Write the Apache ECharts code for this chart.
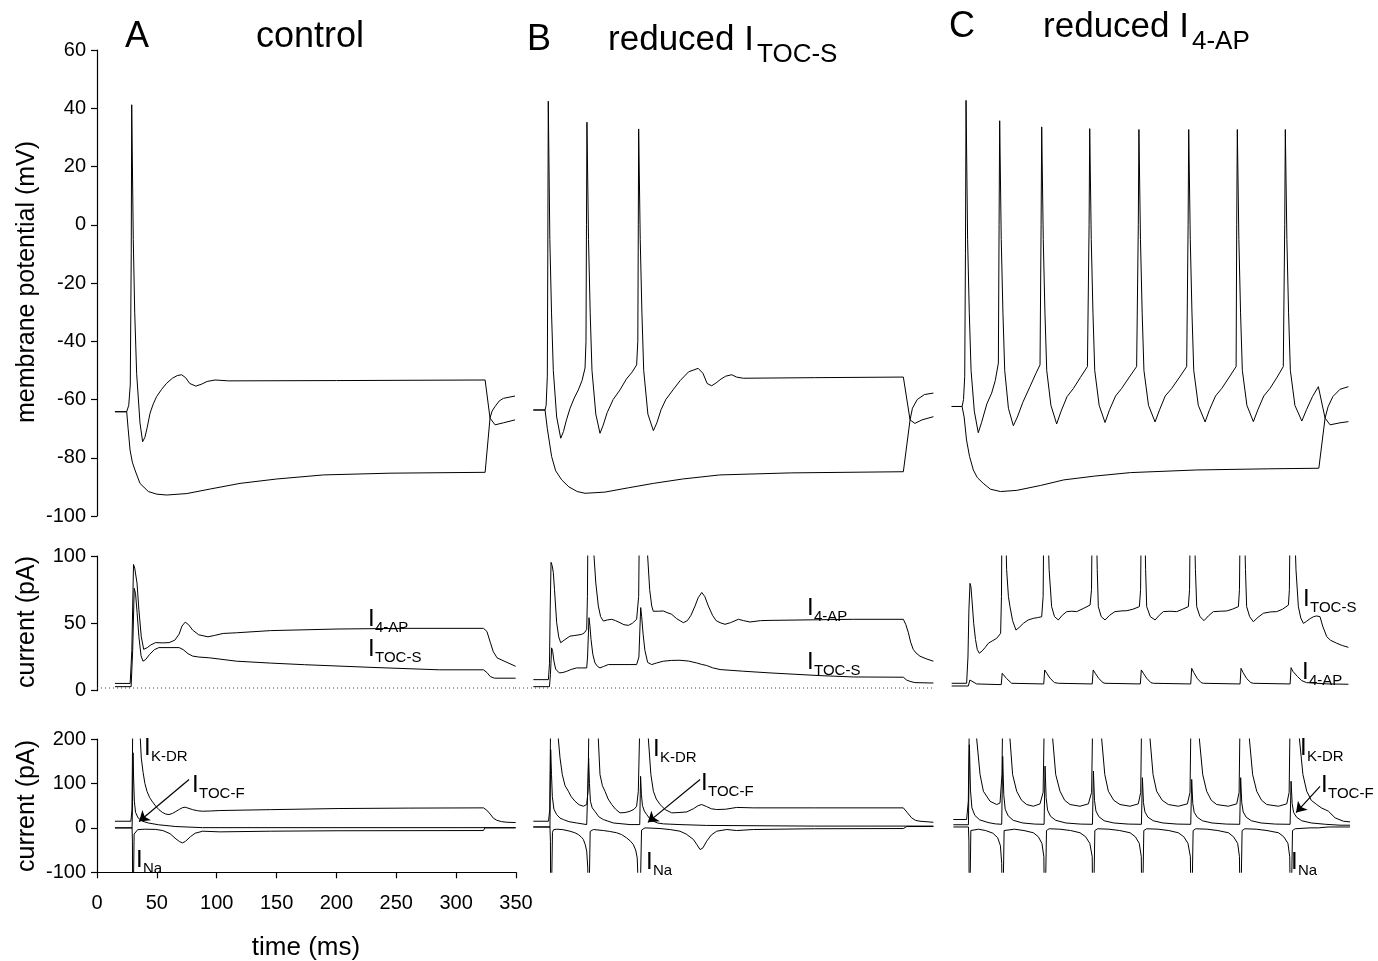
<!DOCTYPE html>
<html><head><meta charset="utf-8">
<script src="https://cdn.jsdelivr.net/npm/echarts@6/dist/echarts.min.js"></script>
<style>html,body{margin:0;padding:0;background:#fff}#c{width:1378px;height:961px}</style>
</head><body><div id="c"></div>
<script>
// ---------------- DATA (time ms, value) ----------------
// Row 1: membrane potential (mV)
const vA_depol = [[15,-64.2],[24.8,-64.2],[26.5,-62],[27.8,-55],[28.6,-10],[29,41.2],[30.3,-5],[31.5,-30],[33.1,-51],[35.9,-68],[38.1,-74.5],[40,-73],[42,-69.5],[44.3,-64.7],[47,-61.5],[49.8,-59],[54,-56.5],[58.2,-54.4],[63,-52.7],[67,-51.8],[70.7,-51.5],[74,-52.5],[77.5,-54.5],[82.5,-55.4],[87,-54.8],[92,-53.8],[98.6,-53.3],[110,-53.6],[200,-53.5],[324.2,-53.3],[328.3,-66.4],[332.5,-68.7],[339.5,-68],[349.2,-67]];
const vA_hyper = [[15,-64.2],[24.8,-64.2],[26,-70],[27.6,-77.3],[29.5,-81.5],[31.7,-84.2],[35.9,-88.8],[42.9,-91.6],[50,-92.5],[58.2,-92.8],[75,-92.3],[95,-90.7],[119.5,-88.8],[150,-87.3],[189.1,-85.9],[244.8,-85.3],[324.2,-85],[328.3,-66.4],[330,-64],[332.5,-62.4],[336,-60.5],[339.5,-59.6],[349.2,-58.8]];
const vB_depol = [[15.3,-63.6],[25.1,-63.6],[26,-62],[27,-52],[27.4,-10],[27.8,42.4],[29.1,-5],[30.5,-30],[32,-50],[34.8,-66],[38.2,-73.3],[40.5,-71],[43,-67],[46,-63],[49.5,-59.5],[52.9,-56.7],[56,-53.5],[58.5,-49.2],[59.3,-40],[59.7,0],[60.1,35.2],[61.4,-5],[62.8,-30],[64.3,-50],[67.5,-65],[71,-71.6],[73.5,-69],[77,-64.5],[82,-60],[87.7,-56.7],[93,-53],[98,-50.5],[101.6,-48.1],[102.6,-40],[103,0],[103.3,32.9],[104.6,-5],[106,-30],[107.5,-50],[111,-65],[115.6,-70.7],[118.5,-68],[122,-63.5],[126,-60],[132,-56.7],[138,-53.5],[145,-50.5],[153,-49.3],[157,-51],[160.5,-54.5],[164.3,-55.3],[168,-54.3],[172,-53],[176,-52],[181,-51.5],[185,-52.3],[190.7,-52.7],[250,-52.5],[324.4,-52.3],[330,-67],[334,-68.2],[340,-67],[349.5,-65.9]];
const vB_hyper = [[15.3,-63.6],[25.1,-63.6],[27,-70],[30.6,-79.6],[34,-84.5],[39,-87.6],[45,-90],[52,-91.6],[58.5,-92.2],[75,-91.8],[95,-90.3],[115.6,-88.8],[140,-87.3],[171,-85.9],[230,-85.2],[324.4,-84.8],[330,-67],[332,-63],[336,-60],[342,-58.3],[349.5,-57.8]];
const vC_depol = [[15.6,-62.4],[24.3,-62.4],[25.5,-60],[26.5,-52],[27.1,-10],[27.6,42.7],[28.9,-5],[30.3,-30],[31.8,-50],[34.5,-64],[37.8,-71.4],[40.5,-68],[45,-61.5],[49,-57.8],[52,-53.5],[54.6,-47.5],[55.2,0],[55.7,35.7],[57,-5],[58.4,-30],[59.9,-50],[63,-63],[67.1,-69],[70.5,-66],[75,-61],[81,-55.6],[86,-51],[89.4,-48.1],[90.3,0],[90.8,33.6],[92.1,-5],[93.5,-30],[95,-50],[98.5,-62],[103.3,-68.4],[107,-64],[112,-59],[117.3,-56.2],[123,-52.5],[129,-48.7],[130.4,0],[130.9,33],[132.2,-5],[133.6,-30],[135.1,-50],[138.8,-62],[143.7,-67.9],[147.5,-63.5],[152.5,-58.8],[157.6,-56.2],[164,-52.3],[170.1,-48.7],[171.5,0],[172,32.7],[173.3,-5],[174.7,-30],[176.2,-50],[180,-62],[185.5,-67.7],[189.3,-63.5],[194,-58.8],[199.4,-56.2],[206,-52.3],[211.9,-48.7],[213.1,0],[213.6,32.7],[214.9,-5],[216.3,-30],[217.8,-50],[221.6,-62],[227.3,-67.7],[231,-63.5],[236,-58.8],[241.2,-56.2],[247.5,-52.3],[253.2,-48.7],[253.7,0],[254.2,32.7],[255.5,-5],[256.9,-30],[258.4,-50],[262.2,-62],[267.6,-67.6],[271.4,-63.5],[276.3,-58.8],[281.5,-56.2],[287.5,-52.3],[292.6,-48.7],[293.8,0],[294.3,32.7],[295.6,-5],[297,-30],[298.5,-50],[302.3,-62],[308.1,-67.4],[312,-63.5],[317,-59],[321.9,-55.6],[327.5,-66.4],[331.7,-68.7],[340,-68],[347,-67.6]];
const vC_hyper = [[15.6,-62.4],[24.3,-62.4],[26,-66],[28,-73.9],[30.5,-79.5],[33.7,-84.2],[37,-86.8],[42,-88.8],[48,-90.8],[56.4,-91.6],[70,-91.2],[90,-89.5],[109.3,-87.6],[135,-86.3],[165,-85.1],[220,-84.2],[280,-83.8],[322.3,-83.6],[327.5,-66.4],[330,-62.5],[334,-59],[340,-56.5],[347,-55.6]];

// Row 2: slow K currents (pA)
const iA_4ap = [[15,5.4],[27.7,5.4],[29.1,30],[30.5,93.7],[31.5,91],[33.4,80],[35,60],[37,40],[39,30.7],[42,32],[45,34],[48.9,35.7],[55,35.5],[60.2,35.7],[65,37.5],[68.6,42],[71,48],[73.7,50.9],[76.5,49],[79.9,45],[85,41.5],[92.7,40],[98,41],[105.4,42.5],[116.6,43],[144.9,44.6],[201.4,45.8],[257.9,46.3],[322.8,46.3],[325.7,44],[328.5,36],[331,29],[334.2,24.4],[340,22],[345,20],[349.7,18.1]];
const iA_tocs = [[15,3],[28.5,3],[29.8,30],[31.1,76],[32.2,72],[33.5,58],[35,40],[36.8,26],[38.4,21.9],[40.5,23],[44,27],[48,30.5],[51.7,32],[60.2,32],[68.6,32],[72,30.5],[76,27.5],[79.9,25.7],[85,25],[94.1,24.4],[116.6,21.9],[144.9,20.5],[173.2,19.3],[229.7,17.3],[286.1,15.5],[322.8,15.5],[325.7,13.5],[328.5,10.5],[332,9.3],[349.7,9.3]];
const iB_4ap = [[15.3,8.2],[27.9,8.2],[28.8,20],[29.4,60],[30.1,95.3],[31,93],[32,87.8],[33,75],[34.8,50.5],[36.5,40],[38.2,35.6],[41,37.5],[45.9,40.5],[50,41],[55.7,41.8],[58,43],[59.9,45.5],[60.5,70],[61,130],[64,130],[66,100],[67.5,80],[69.6,62.9],[71.5,55],[73.8,51.7],[77,52.5],[80.8,53],[84,52],[87.7,50.5],[91,49],[94.7,48.5],[98,50],[101.6,53],[103.3,70],[104,130],[108.5,130],[110.8,100],[112.5,75],[114.2,62.9],[115.5,59],[117,58],[120,59],[123.9,59.2],[127,58],[130.9,56.7],[135,53.5],[140.6,50.5],[144,52],[147,56],[150.4,62.9],[153,69],[156,72.9],[158.5,70],[161.5,62.9],[165,56],[168,52],[171.3,50.5],[175.4,49.3],[180,50.5],[186.6,53],[191,52],[196.3,51],[205,52],[213,52.2],[282.6,53],[324.4,53],[326.5,49],[328.6,43],[330.5,36],[332.7,30.6],[335,28],[338.3,25.6],[344,23.5],[349.5,21.9]];
const iB_tocs = [[15.3,3],[28.8,3],[29.6,12],[30.6,31.8],[31.5,29],[32.5,22],[34,16],[37,13.2],[40,13.5],[43.2,14.4],[47,15.8],[51.5,16.9],[55.7,16.9],[59.9,16.9],[60.6,25],[61.8,54.2],[62.6,48],[63.5,38],[65,27],[66.8,20.6],[69,18],[71,16.9],[74,18],[77.9,19.4],[87.7,19.4],[96,19.4],[101.6,19.4],[103.5,25],[104.3,45],[105,61.7],[105.8,55],[107,42],[108.5,30],[110.8,21],[114.2,19.4],[118,20.5],[123.9,21.9],[130.9,22.5],[137.8,22.6],[145,22],[151.8,20.6],[156,19.5],[160.1,18.7],[165,17],[171.3,15.7],[190,14.5],[213,13.2],[254.8,11.2],[282.6,10.2],[324.4,10],[327,8],[330,6.9],[334,6],[349.5,5.7]];
const iC_tocs = [[15.6,5.5],[28.1,5.5],[29.2,25],[30,60],[30.9,79.7],[31.7,77],[32.5,68],[34,50],[35.5,38],[37,30.5],[38.7,27.8],[41,29.5],[43.5,32],[46.2,35.2],[50,37.2],[53.2,38.9],[56.5,42.6],[57.2,70],[57.6,130],[60.5,130],[61.5,90],[63,70],[64.3,62.4],[66.5,52],[69.3,45],[72,47],[75.5,50],[79.5,52.5],[83.8,53.7],[87.5,54.3],[90.8,54.9],[92,70],[92.6,130],[95.8,130],[97,90],[99.1,62.4],[101.5,55],[104.7,52.5],[108,56],[111.7,58.7],[116,59],[120,58.7],[125.5,61],[131.2,63.6],[132.4,75],[133,130],[136.3,130],[137.2,90],[138.1,62.4],[140.5,55],[143.7,52.5],[147.5,56],[152,58.7],[157,59.2],[161.8,59.4],[167,60.5],[172.4,62.4],[173.4,75],[174,130],[176.8,130],[177.6,90],[178.5,62.4],[181.5,55],[185.5,52.5],[189,56],[192.4,58.7],[198,59],[203.6,58.7],[208.5,60.5],[213.3,62.4],[214.3,75],[214.9,130],[218.2,130],[219.2,90],[220.3,62.4],[223,55],[226.4,52],[230,55.5],[234.2,58.7],[240,59],[245.4,59.2],[250,60.5],[255.1,62.4],[256,75],[256.6,130],[260,130],[261,90],[262,62.4],[264.5,55],[267.6,51.2],[271.5,54.5],[276,57.5],[282,58.5],[287.1,58.7],[292,60.5],[296.9,63.6],[297.7,75],[298.3,130],[301.8,130],[303.2,90],[305.2,62.4],[307.2,54],[309.4,50],[312,51.5],[315,53.5],[318,55],[320.5,55.5],[323.3,54.9],[325.5,48],[328.9,40.1],[332,37.5],[337.3,35.2],[342,33.5],[347,32.2]];
const iC_4ap = [[15.6,3.5],[29.5,3.5],[30.8,7.9],[32,7],[36.5,5],[57,4.5],[57.8,12.9],[59,12],[61.5,9],[65.7,5.5],[92.5,5],[93.3,15.4],[95,13],[98,9],[101.5,6],[104.7,5.5],[133,5],[133.8,15.4],[135.5,13],[138.5,9],[142,6],[143.7,5.5],[173.2,5],[174,15.4],[175.7,13],[178.7,9],[182,6],[184.1,5.5],[215.3,5],[216.1,16.6],[217.8,13.5],[220.8,9],[224,6],[225.9,5.5],[256.5,5],[257.3,16.6],[259,13.5],[262,9],[265.5,6],[267.6,5.5],[298.3,5],[299.1,17.1],[300.5,14.5],[302,14.1],[304.5,10.5],[308,7.5],[312,6],[320.5,5.5],[330,5],[347,4.8]];
const zeroRef = [[0,2],[350,2]];

// Row 3: fast currents (pA)
const kA_kdr = [[15,14.9],[28.3,14.9],[29.2,40],[29.9,250],[35.4,250],[36.2,200],[37,157],[38.5,125],[40,100],[41.8,82],[44,68],[46,60],[49,49],[51.7,41],[54.5,35],[57.4,31],[60.2,30],[63,32.5],[65.9,37],[69,42],[71.5,45.5],[73.7,46.5],[76,44.5],[79.9,41],[84,38.5],[88.4,37.4],[95,38],[102.6,39],[145,41],[201.4,43.5],[260,44.5],[322.8,45],[325.5,40],[328.5,31],[331,22],[334,17],[338,14],[342.6,12.6],[349.7,12]];
const kA_tocf = [[15,0],[29.3,0],[29.7,60],[30.1,169],[30.6,110],[31.2,60],[32.2,35],[34.3,22.5],[38,15],[42.8,11],[51.3,7],[65.9,3],[88,0.5],[349.7,0.5]];
const kA_na = [[15,0],[29.3,0],[29.6,-30],[29.9,-250],[30.5,-250],[31,-14],[32,-10],[34,-4],[40,-3],[49,-3.5],[55,-6],[61,-13],[66,-25],[69,-31],[71.5,-33.8],[74,-30],[78,-20],[82,-12],[88.4,-7.5],[102.6,-9],[145,-7.5],[201.4,-6.5],[322.8,-6],[324,0],[349.7,0]];
const kB_kdr = [[15.3,14.9],[28,14.9],[29,40],[29.8,250],[35.5,250],[36.2,200],[37.6,157.7],[39.5,120],[41.8,95],[44.6,82.4],[47,70],[50.1,60],[53.5,52],[57.1,48.7],[59.9,52.5],[61,82.4],[61.8,250],[68.9,250],[69.6,200],[71,120],[73,95],[75.2,82.4],[77.8,65],[80.8,52.5],[84,42],[87.7,33.8],[92,34.5],[96.1,37.4],[99.5,42],[101.6,48.7],[103,82.4],[104.4,250],[110.6,250],[111.4,200],[113.5,120],[115.6,82.4],[118,65],[121.2,52.5],[125.5,41],[130.9,33.8],[137,34.5],[143.5,35.9],[149,43],[153,50],[156,52.5],[160,48],[164,43],[168.5,41.2],[176,42],[185.2,46],[199.1,45],[250,45],[324.4,45],[327.5,35],[331.3,22.5],[334.5,17],[338.3,14.9],[349.5,12.6]];
const kB_tocf = [[15.3,2],[29.2,2],[29.8,176],[30.5,120],[31.2,70],[32.5,42],[34.8,30],[37.6,22],[40.4,18.7],[45,14],[51.5,11],[59.9,7.4],[60.9,7.4],[61.5,157],[62.2,100],[63,60],[64.5,45],[66.8,37],[70,25],[73.8,18.7],[82.1,11],[96.1,7.4],[104.2,7.4],[104.9,116],[105.6,75],[106.5,50],[108,38],[110,30],[112.5,21],[115.6,15],[119,11],[123.9,9],[137.8,7.4],[160,5.5],[250,4],[349.5,4]];
const kB_na = [[15.3,2],[29.2,2],[29.6,-30],[29.9,-250],[30.6,-250],[31.3,-10],[32.2,-4],[35,-3],[40,-4],[45.9,-7.5],[50,-11],[52.9,-15],[55.5,-21],[57.1,-26],[58.7,-38],[59.9,-52.5],[60.8,-90],[61.3,-250],[62,-250],[62.8,-8],[64,-4],[65.5,-3.7],[73.8,-6],[79,-8],[84.9,-11],[89,-15],[93.2,-22.5],[96.5,-30],[98.8,-37.5],[100.8,-50],[102.1,-67.6],[103.2,-150],[103.9,-250],[104.8,-250],[105.7,-5],[106.8,-1],[108.6,0],[121.2,-1.5],[130,-4],[137.8,-7.5],[143,-14],[149,-26],[152,-38],[154.6,-48.9],[157,-45],[160.1,-30],[164,-16],[168.5,-7.5],[176.9,-3.7],[185.2,-6],[199.1,-3.7],[250,-2],[324.4,-1.5],[327.2,3],[349.5,3]];
const kC_kdr = [[17,18.8],[28.1,18.8],[29.5,60],[30.4,250],[35,250],[36.5,200],[39.3,120],[42.1,82.4],[47.6,60],[53.2,52.5],[56,56],[57.6,120],[58.2,250],[63,250],[64.3,200],[66.5,120],[69.9,82.4],[74,62],[78.3,52.5],[83.8,48.7],[89.4,54],[92,80],[93,250],[99,250],[100,200],[102.5,120],[106.1,82.4],[110,62],[114.5,52.5],[122.8,48.7],[129.8,54],[132.5,80],[133.4,250],[140,250],[140.9,200],[143.5,120],[146.5,82.4],[151,62],[156.2,52.5],[164.6,48.7],[171.5,54],[173.5,80],[174.3,250],[180,250],[181.3,200],[183.8,120],[186.8,82.4],[191.5,62],[196.6,52.5],[204.9,48.7],[212.5,54],[214.7,80],[215.5,250],[221.5,250],[222.5,200],[225.3,120],[228.6,82.4],[232.5,62],[237,52.5],[246.7,48.7],[253.7,54],[255.7,80],[256.5,250],[263,250],[264.3,200],[267,120],[270.4,82.4],[274.5,62],[278.8,52.5],[288.6,48.7],[295.5,54],[297.5,80],[298.3,250],[305,250],[306.1,200],[309,120],[312.2,82.4],[316,62],[320.5,52.5],[325,44],[327.5,41.2],[330.3,37.4],[335.9,22.5],[342.8,14.9],[348.4,13.4]];
const kC_tocf = [[17,7],[29.6,7],[30.4,187],[31.3,85],[32.5,45],[35,28],[39,18],[46,12],[52,9],[57.4,8],[58.2,161],[59.1,75],[60.3,42],[62.8,27],[67,17],[75,11],[85,8.5],[92.8,8],[93.6,139],[94.5,68],[95.7,40],[98.2,26],[102.5,17],[111,11],[123,8.5],[133.2,8],[134,128],[134.9,62],[136.1,38],[138.6,25],[143,16],[151,11],[163,8.5],[174.1,8],[174.9,113],[175.8,57],[177,36],[179.5,24],[184,16],[192,11],[204,8.5],[215.3,8],[216.1,109],[217,55],[218.2,35],[220.7,24],[225,16],[233,11],[245,8.5],[256.2,8],[257,113],[257.9,57],[259.1,36],[261.6,24],[266,16],[274,11],[286,8.5],[298.3,8],[299.1,105],[300,55],[301.2,35],[303.7,24],[308,16],[316,11],[328,8],[340,6],[348.4,6]];
const kC_na = [[17,2],[29.6,2],[30,-30],[30.4,-250],[31,-250],[31.6,-6],[33,-2],[38,-3],[44,-6],[50,-12],[54,-22],[56.3,-40],[57.4,-80],[58,-250],[58.6,-250],[59.4,-6],[61,-2],[68,-3],[76,-6],[83.8,-11],[88,-20],[91,-35],[92.6,-65],[93.3,-250],[94,-250],[94.8,-6],[97,-2],[106,-3],[115,-6],[122.8,-11],[127.5,-20],[131,-35],[133,-65],[133.7,-250],[134.4,-250],[135.2,-6],[137.5,-2],[147,-3],[156,-6],[164.6,-11],[169,-20],[172.3,-35],[174,-65],[174.6,-250],[175.3,-250],[176.1,-6],[178.5,-2],[188,-3],[197,-6],[204.9,-11],[209.5,-20],[213,-35],[215,-65],[215.8,-250],[216.5,-250],[217.3,-6],[219.5,-2],[229,-3],[238,-6],[246.7,-11],[251,-20],[254.5,-35],[256,-65],[256.7,-250],[257.4,-250],[258.2,-6],[260.5,-2],[270,-3],[279,-6],[288.6,-11],[293,-20],[296.5,-35],[298,-65],[298.8,-250],[299.5,-250],[300.3,-6],[302.5,-2],[315,0],[322,0],[330,2],[348.4,2]];

// arrows for I_TOC-F labels (data coords: tail, head)
const arrowA = [[76.9,108.8],[35.1,14.2]];
const arrowB = [[154.6,109],[111,12.4]];
const arrowC = [[323.3,93.5],[303.3,34.5]];

const yTicksTop = {min:-100,max:60,interval:20};
const yTicksMid = {min:0,max:100,interval:50};
const yTicksBot = {min:-100,max:200,interval:100};
const xTicks = {min:0,max:350,interval:50};

// ---------------- LAYOUT ----------------
const FONT = '"Liberation Sans", Arial, Helvetica, sans-serif';
const colLeft = [97, 515, 933];
const colWidth = 419;
const rowBox = [{top:50,height:466},{top:556,height:134.7},{top:739,height:133.3}];
const rowTicks = [yTicksTop, yTicksMid, yTicksBot];

const grids=[], xAxes=[], yAxes=[];
for (let r=0;r<3;r++) for (let c=0;c<3;c++){
  const gi=r*3+c;
  grids.push({left:colLeft[c], top:rowBox[r].top, width:colWidth, height:rowBox[r].height, containLabel:false, outerBoundsMode:'none'});
  const axLine={show:true,onZero:false,lineStyle:{color:'#000',width:1.2}};
  const axTick={show:true,inside:false,length:6,lineStyle:{color:'#000',width:1.2}};
  xAxes.push({type:'value',gridIndex:gi,min:xTicks.min,max:xTicks.max,interval:xTicks.interval,show:(r===2&&c===0),
    axisLine:axLine,axisTick:axTick,splitLine:{show:false},
    axisLabel:{color:'#000',fontSize:20,fontFamily:FONT,margin:21}});
  yAxes.push({type:'value',gridIndex:gi,min:rowTicks[r].min,max:rowTicks[r].max,interval:rowTicks[r].interval,show:(c===0),
    axisLine:axLine,axisTick:axTick,splitLine:{show:false},
    axisLabel:{color:'#000',fontSize:20,fontFamily:FONT,margin:11,showMinLabel:true,showMaxLabel:true}});
}

function line(gi, data, extra){
  return Object.assign({type:'line',xAxisIndex:gi,yAxisIndex:gi,data:data,showSymbol:false,symbol:'none',
    clip:true,silent:true,animation:false,lineStyle:{color:'#000',width:1}}, extra||{});
}
function arrowLine(gi, data, arr){
  return line(gi, data, {markLine:{silent:true,animation:false,symbol:['none','arrow'],symbolSize:10,
    label:{show:false},lineStyle:{color:'#000',width:1.2,type:'solid'},
    data:[[{coord:arr[0]},{coord:arr[1]}]]}});
}
const dotted = {lineStyle:{color:'#444',width:1,type:[1,3]}};

const series = [
  line(0,vA_hyper), line(0,vA_depol),
  line(1,vB_hyper), line(1,vB_depol),
  line(2,vC_hyper), line(2,vC_depol),
  line(3,zeroRef,dotted), line(4,zeroRef,dotted),
  line(3,iA_tocs), line(3,iA_4ap),
  line(4,iB_tocs), line(4,iB_4ap),
  line(5,iC_4ap), line(5,iC_tocs),
  line(6,kA_na), arrowLine(6,kA_tocf,arrowA), line(6,kA_kdr),
  line(7,kB_na), arrowLine(7,kB_tocf,arrowB), line(7,kB_kdr),
  line(8,kC_na), arrowLine(8,kC_tocf,arrowC), line(8,kC_kdr)
];

function txt(x,y,s,size,align,extra){
  return Object.assign({type:'text',x:x,y:y,silent:true,
    style:{text:s,fontSize:size,fontFamily:FONT,fill:'#000',align:align||'left',verticalAlign:'middle',
      textAlign:align||'left',textVerticalAlign:'middle'}}, extra||{});
}
function curLabel(x,yc,sub){
  return [txt(x,yc,'I',24), txt(x+7,yc+9,sub,15)];
}
const graphics = [].concat(
  [txt(137,37,'A',36,'center'), txt(310,37,'control',36,'center'),
   txt(539,40,'B',36,'center'), txt(754,40,'reduced I',35,'right'), txt(757,55,'TOC-S',26),
   txt(962,27,'C',36,'center'), txt(1189,27,'reduced I',35,'right'), txt(1192,42,'4-AP',26)],
  [txt(27,282,'membrane potential (mV)',25,'center',{rotation:Math.PI/2}),
   txt(27,622,'current (pA)',25,'center',{rotation:Math.PI/2}),
   txt(27,806,'current (pA)',25,'center',{rotation:Math.PI/2}),
   txt(306,948,'time (ms)',26,'center')],
  curLabel(368,619,'4-AP'), curLabel(368,649,'TOC-S'),
  curLabel(807,608,'4-AP'), curLabel(807,662,'TOC-S'),
  curLabel(1303,599,'TOC-S'), curLabel(1302,672,'4-AP'),
  curLabel(144,748,'K-DR'), curLabel(192,785,'TOC-F'), curLabel(136,860,'Na'),
  curLabel(653,749,'K-DR'), curLabel(701,783,'TOC-F'), curLabel(646,862,'Na'),
  curLabel(1300,748,'K-DR'), curLabel(1321,785,'TOC-F'), curLabel(1291,862,'Na')
);

const chart = echarts.init(document.getElementById('c'), null, {renderer:'canvas'});
chart.setOption({
  animation:false, backgroundColor:'#fff',
  grid:grids, xAxis:xAxes, yAxis:yAxes, series:series, graphic:graphics
});
</script></body></html>
